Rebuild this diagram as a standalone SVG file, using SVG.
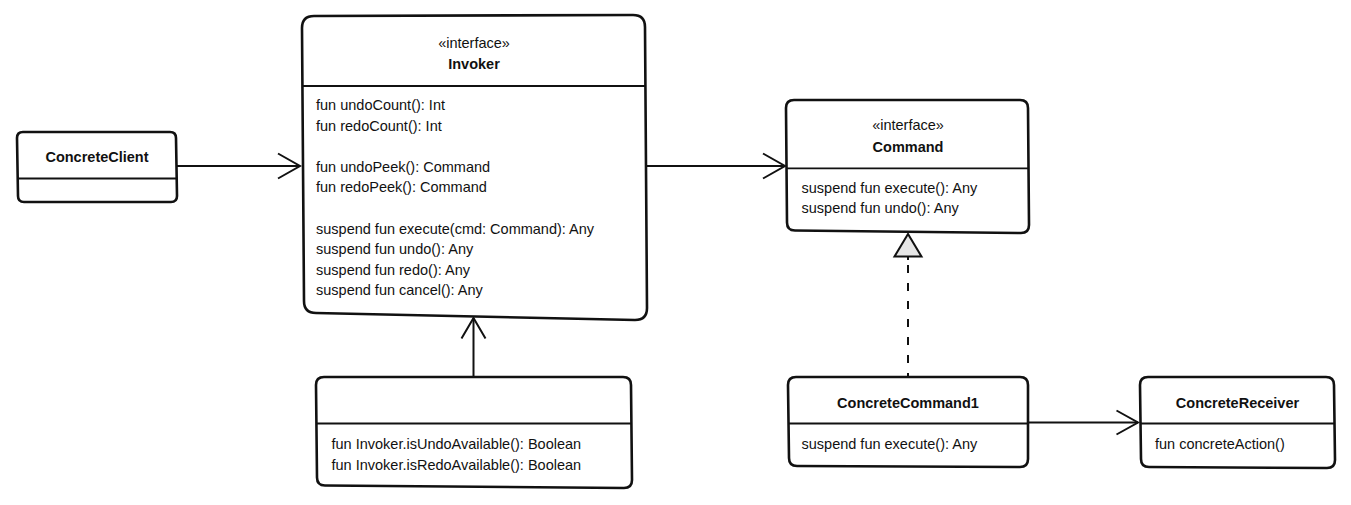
<svg xmlns="http://www.w3.org/2000/svg" width="1351" height="505" viewBox="0 0 1351 505">
<style>
.box{fill:#fff;stroke:#111;stroke-width:2.6;stroke-linejoin:round}
.div{stroke:#111;stroke-width:1.8;fill:none}
.t{font-family:"Liberation Sans",Arial,sans-serif;font-size:14.5px;fill:#111}
.b{font-weight:bold;text-anchor:middle}
.c{text-anchor:middle}
.ln{stroke:#111;stroke-width:2;fill:none}
.dash{stroke:#111;stroke-width:2;fill:none;stroke-dasharray:8 10}
</style>
<rect width="1351" height="505" fill="#fff"/>
<g id="connectors">
  <line class="ln" x1="177" y1="166" x2="300" y2="166"/>
  <polyline class="ln" points="278,153.5 300,166 278,178.5"/>
  <line class="ln" x1="646" y1="166" x2="785" y2="166"/>
  <polyline class="ln" points="763,153.5 785,166 763,178.5"/>
  <line class="ln" x1="473.5" y1="377" x2="473.5" y2="318"/>
  <polyline class="ln" points="461.5,338.5 473.5,318 485.5,338.5"/>
  <line class="dash" x1="908" y1="265" x2="908" y2="377"/>
  <line class="ln" x1="908" y1="257" x2="908" y2="260"/>
  <polygon points="908,234 894.5,256.5 921.5,256.5" fill="#e6e6e6" stroke="#111" stroke-width="2" stroke-linejoin="miter"/>
  <line class="ln" x1="1028" y1="422.5" x2="1138" y2="422.5"/>
  <polyline class="ln" points="1116.5,410.5 1138,422.5 1116.5,434.5"/>
</g>
<g id="ConcreteClient">
  <path class="box" d="M17,138 Q17,132 23,132 L170,132 Q176,132 176,138 L177,196 Q177,202 171,202 L24,202 Q18,202 18,196 Z"/>
  <line class="div" x1="17" y1="178.5" x2="176.5" y2="178.5"/>
  <text class="t b" x="97" y="162">ConcreteClient</text>
</g>
<g id="Invoker">
  <path class="box" d="M302,28 Q302,16 314,16 L633,15 Q645,15 645,27 L647,308 Q647,320 635,320 L316,313 Q304,313 304,301 Z"/>
  <line class="div" x1="303" y1="86" x2="645.5" y2="86"/>
  <text class="t c" x="474" y="48.3">«interface»</text>
  <text class="t b" x="474" y="69">Invoker</text>
  <text class="t" x="316" y="110">fun undoCount(): Int</text>
  <text class="t" x="316" y="130.6">fun redoCount(): Int</text>
  <text class="t" x="316" y="171.8">fun undoPeek(): Command</text>
  <text class="t" x="316" y="192.4">fun redoPeek(): Command</text>
  <text class="t" x="316" y="233.6">suspend fun execute(cmd: Command): Any</text>
  <text class="t" x="316" y="254.2">suspend fun undo(): Any</text>
  <text class="t" x="316" y="274.8">suspend fun redo(): Any</text>
  <text class="t" x="316" y="295.4">suspend fun cancel(): Any</text>
</g>
<g id="Command">
  <path class="box" d="M786,108 Q786,100 794,100 L1020,100 Q1028,100 1028,108 L1029,225 Q1029,233 1021,233 L795,230.5 Q787,230.5 787,222.5 Z"/>
  <line class="div" x1="786" y1="168.3" x2="1028.5" y2="168.3"/>
  <text class="t c" x="908" y="130.3">«interface»</text>
  <text class="t b" x="908" y="151.7">Command</text>
  <text class="t" x="801.5" y="192.7">suspend fun execute(): Any</text>
  <text class="t" x="801.5" y="213.2">suspend fun undo(): Any</text>
</g>
<g id="InvokerExtensions">
  <path class="box" d="M316,385 Q316,377 324,377 L623,377 Q631,377 631,385 L632,480 Q632,488 624,488 L325,485.5 Q317,485.5 317,477.5 Z"/>
  <line class="div" x1="316" y1="423.5" x2="631.5" y2="423.5"/>
  <text class="t" x="331.5" y="449">fun Invoker.isUndoAvailable(): Boolean</text>
  <text class="t" x="331.5" y="469.5">fun Invoker.isRedoAvailable(): Boolean</text>
</g>
<g id="ConcreteCommand1">
  <path class="box" d="M788,385 Q788,377 796,377 L1020,377 Q1028,377 1028,385 L1028,459 Q1028,467 1020,467 L797,466 Q789,466 789,458 Z"/>
  <line class="div" x1="788" y1="423.5" x2="1028" y2="423.5"/>
  <text class="t b" x="908" y="407.7">ConcreteCommand1</text>
  <text class="t" x="801.5" y="449">suspend fun execute(): Any</text>
</g>
<g id="ConcreteReceiver">
  <path class="box" d="M1140,385 Q1140,377 1148,377 L1326,377 Q1334,377 1334,385 L1335,460 Q1335,468 1327,468 L1149,467 Q1141,467 1141,459 Z"/>
  <line class="div" x1="1140" y1="423.5" x2="1334.5" y2="423.5"/>
  <text class="t b" x="1237.5" y="407.7">ConcreteReceiver</text>
  <text class="t" x="1155" y="449">fun concreteAction()</text>
</g>
</svg>
